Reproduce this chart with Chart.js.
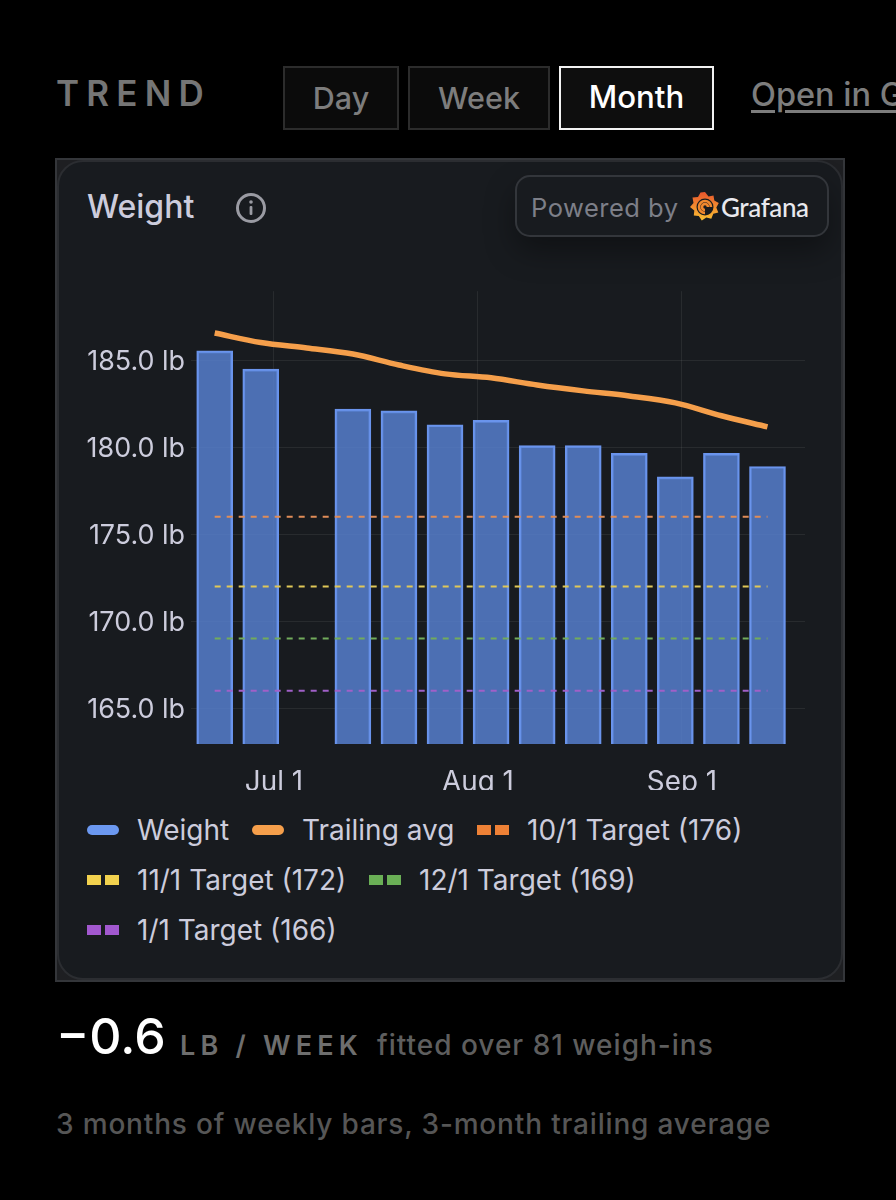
<!DOCTYPE html>
<html><head><meta charset="utf-8">
<script src="https://cdn.jsdelivr.net/npm/chart.js@4"></script>
<style>
html,body{margin:0;padding:0;background:#000;width:896px;height:1200px;overflow:hidden;font-family:Inter,sans-serif}
.abs{position:absolute;white-space:nowrap}
.btn{position:absolute;top:66px;height:64px;box-sizing:border-box;background:#0b0b0b;border:2px solid #2c2c2c;color:#7d7d7d;font-size:30.5px;font-weight:500;line-height:59px;text-align:center}
.btn.on{border-color:#f2f2f2;color:#fff;background:#0e0e0e;font-size:31.2px}
#panel{position:absolute;left:55px;top:158px;width:790px;height:824px;box-sizing:border-box;border:2px solid #34363a;background:#1e1f22}
#inner{position:absolute;left:0;top:0;right:0;bottom:0;box-sizing:border-box;border:2px solid #2b2d31;background:#181b1f;border-radius:26px}
#pow{position:absolute;left:515px;top:175px;width:314px;height:62px;box-sizing:border-box;border:2px solid #33363b;border-radius:15px;background:#181b1f;box-shadow:0 14px 30px rgba(0,0,0,.35)}
#wrap{position:absolute;left:60px;top:269px;width:745px;height:521px}
.leg{position:absolute;display:flex;align-items:center;color:#ccccdc;font-size:28px;white-space:nowrap}
.sw{width:32px;height:10px;margin-right:18px;display:flex;justify-content:space-between}
.sw i{display:block;width:14px;height:10px}
</style></head><body>
<div class="abs" style="left:56px;top:72px;font-size:35px;font-weight:600;letter-spacing:7.2px;color:#757575">TREND</div>
<div class="btn" style="left:283px;width:116px">Day</div>
<div class="btn" style="left:408px;width:142px">Week</div>
<div class="btn on" style="left:559px;width:155px">Month</div>
<div class="abs" style="left:751px;top:75px;font-size:32.5px;font-weight:500;color:#7d7d7d;text-decoration:underline;text-underline-offset:4px">Open in Grafana</div>
<div id="panel"><div id="inner"></div></div>
<div class="abs" style="left:87px;top:187px;font-size:32px;font-weight:500;color:#ccccdc">Weight</div>
<svg class="abs" style="left:235px;top:192px" width="32" height="32" viewBox="0 0 32 32"><circle cx="16" cy="16" r="13.5" fill="none" stroke="#9a9ba3" stroke-width="3"/><rect x="14.6" y="14" width="2.8" height="9" rx="1" fill="#9a9ba3"/><circle cx="16" cy="10" r="1.8" fill="#9a9ba3"/></svg>
<div id="pow"></div>
<div class="abs" style="left:531px;top:192px;font-size:25.5px;letter-spacing:.5px;color:#7d7f88">Powered by</div>
<svg class="abs" style="left:690px;top:191px" width="30" height="32" viewBox="0 0 30 32"><defs><linearGradient id="g" x1="0" y1="1" x2="0" y2="0"><stop offset="0" stop-color="#f9c032"/><stop offset="1" stop-color="#e8552d"/></linearGradient></defs><path d="M15 1l3.500 4.500 5-1 .8 5 4.500 2.500-2.500 4.500 2 5-5 1.300-2 5-5-1.300-4.500 3-3-4.500-5-.5.500-5L0 16l3.500-4-1-5.500 5.500-.5 2.500-4.500z" fill="url(#g)"/><circle cx="15" cy="16" r="8.500" fill="#181b1f"/><path d="M21 16a6 6 0 1 0-6 6M18 16a3 3 0 1 0-3 3" fill="none" stroke="#f0882e" stroke-width="2.600"/></svg>
<div class="abs" style="left:721px;top:191px;font-size:26px;font-weight:500;color:#e9e9ee;font-family:Lato,sans-serif;letter-spacing:-.4px">Grafana</div>
<div id="wrap"><canvas id="c"></canvas></div>
<div id="legend"></div>
<div class="abs" style="left:56px;top:1006px;font-size:50px;font-weight:500;color:#fff">−0.6</div>
<div class="abs" style="left:180px;top:1029px;font-size:27px;font-weight:600;letter-spacing:5.2px;color:#6e6e6e">LB / WEEK</div>
<div class="abs" style="left:377px;top:1028px;font-size:28px;letter-spacing:1px;font-weight:500;color:#5e5e5e">fitted over 81 weigh-ins</div>
<div class="abs" style="left:56px;top:1107px;font-size:28px;letter-spacing:.83px;font-weight:500;color:#565656">3 months of weekly bars, 3-month trailing average</div>
<script>
// Day offsets from Jul 1
const weekDays=[-9,-2,5,12,19,26,33,40,47,54,61,68,75];
const weightValues=[185.55,184.5,null,182.2,182.1,181.3,181.55,180.1,180.1,179.65,178.3,179.65,178.9];
const trailingAvg=[186.58,186.03,185.72,185.37,184.74,184.23,184.0,183.59,183.25,182.96,182.56,181.82,181.18];
const targetValues=[176,172,169,166];
const targetNames=['10/1 Target (176)','11/1 Target (172)','12/1 Target (169)','1/1 Target (166)'];
const targetLineColors=['#e08d58','#e0c858','#72ac5c','#a060c8'];
const targetSwatchColors=['#ee8136','#f2d24e','#6ab056','#a258cf'];
const yTicks=[165,170,175,180,185];
const xTickDays=[0,31,62];
const xTickLabels=['Jul 1','Aug 1','Sep 1'];
const gridColor='rgba(255,255,255,0.07)';
const tickColor='#ccccdc';
const targetDatasets=targetValues.map((v,i)=>({type:'line',label:targetNames[i],
  data:[{x:weekDays[0],y:v},{x:weekDays[weekDays.length-1],y:v}],
  borderColor:targetLineColors[i],borderWidth:2,borderDash:[6,6],pointRadius:0,order:1}));
new Chart(document.getElementById('c'),{
  data:{datasets:[
    {type:'bar',label:'Weight',data:weekDays.map((d,i)=>({x:d,y:weightValues[i]})),
     backgroundColor:'rgba(90,132,216,0.8)',borderColor:'#6a94ec',borderWidth:2,barThickness:36,order:3},
    {type:'line',label:'Trailing avg',data:weekDays.map((d,i)=>({x:d,y:trailingAvg[i]})),
     borderColor:'#f59f4b',borderWidth:5.5,pointRadius:0,cubicInterpolationMode:'monotone',order:0},
    ...targetDatasets]},
  options:{responsive:true,maintainAspectRatio:false,animation:false,
    layout:{autoPadding:false,padding:{top:6,left:0,right:0,bottom:0}},
    plugins:{legend:{display:false},tooltip:{enabled:false}},
    scales:{
      x:{type:'linear',min:-12.6,max:80.7,offset:false,
        grid:{color:gridColor,drawTicks:false,offset:false},border:{display:false},
        afterBuildTicks:s=>{s.ticks=xTickDays.map(v=>({value:v}))},
        afterFit:s=>{s.height=46},
        ticks:{color:tickColor,font:{family:'Inter',size:27.8},padding:22,maxRotation:0,autoSkip:false,
          callback:v=>xTickLabels[xTickDays.indexOf(v)]}},
      y:{type:'linear',min:162.93,max:188.99,
        grid:{color:gridColor,drawTicks:false},border:{display:false},
        afterBuildTicks:s=>{s.ticks=yTicks.map(v=>({value:v}))},
        afterFit:s=>{s.width=131},
        ticks:{color:tickColor,font:{family:'Inter',size:26.9},padding:6,labelOffset:1.5,
          callback:v=>v.toFixed(1)+' lb'}}
    }}
});
// legend rows
const legendItems=[
 {n:'Weight',c:'#6b98f0',k:'solid',x:87,y:830},
 {n:'Trailing avg',c:'#f59f4b',k:'solid',x:252,y:830},
 {n:targetNames[0],c:targetSwatchColors[0],k:'dash',x:477,y:830},
 {n:targetNames[1],c:targetSwatchColors[1],k:'dash',x:87,y:880},
 {n:targetNames[2],c:targetSwatchColors[2],k:'dash',x:369,y:880},
 {n:targetNames[3],c:targetSwatchColors[3],k:'dash',x:87,y:930}];
const L=document.getElementById('legend');
legendItems.forEach(it=>{
  const d=document.createElement('div');d.className='leg';
  d.style.left=it.x+'px';d.style.top=(it.y-17)+'px';d.style.height='34px';
  const s=document.createElement('div');s.className='sw';
  if(it.k==='solid'){s.style.background=it.c;s.style.borderRadius='5px'}
  else s.innerHTML=`<i style="background:${it.c}"></i><i style="background:${it.c}"></i>`;
  d.appendChild(s);d.appendChild(document.createTextNode(it.n));L.appendChild(d);
});
</script>
</body></html>
